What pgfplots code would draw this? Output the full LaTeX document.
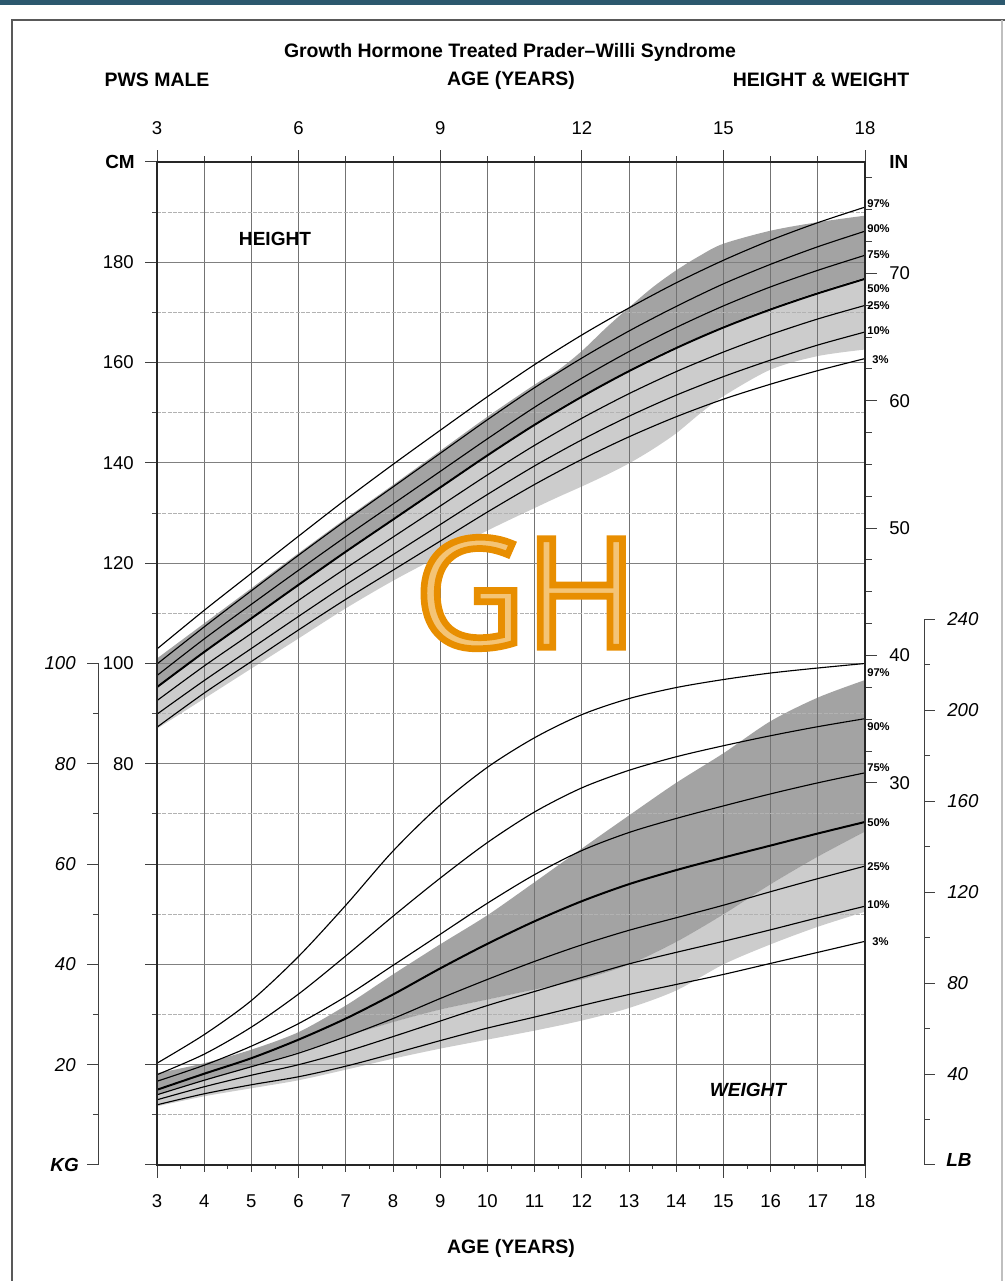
\documentclass[border=0pt]{standalone}
\usepackage{pgfplots}
\pgfplotsset{compat=1.18}
\usepackage{pgfplotstable}
\usepgfplotslibrary{fillbetween}
\usepackage{fontspec}
\setmainfont{Liberation Sans}
\newfontfamily\ghfont{Open Sans}
\definecolor{topbar}{RGB}{44,88,110}
\definecolor{gho}{RGB}{232,142,0}
\definecolor{ghl}{RGB}{244,196,118}
\newcommand\fs[1]{\fontsize{#1}{#1}\selectfont}

% Height percentiles (cm)
\pgfplotstableread{
age p97 p90 p75 p50 p25 p10 p3
3 102.9 99.9 97.6 95.3 92.6 89.9 87.3
4 110.6 107.3 104.9 102.3 99.5 96.6 94.1
5 118.0 114.5 111.8 109.0 106.0 103.0 100.4
6 125.4 121.6 118.6 115.7 112.6 109.4 106.7
7 132.7 128.5 125.3 122.3 119.0 115.7 112.8
8 139.7 135.2 131.8 128.7 125.2 121.7 118.6
9 146.5 141.9 138.3 135.1 131.4 127.7 124.4
10 153.2 148.6 144.8 141.5 137.6 133.7 130.2
11 159.6 155.0 151.1 147.6 143.5 139.4 135.7
12 165.5 160.9 156.9 153.2 148.9 144.6 140.7
13 170.9 166.3 162.2 158.3 153.8 149.3 145.2
14 175.9 171.2 167.0 162.9 158.2 153.5 149.2
15 180.4 175.7 171.3 167.0 162.1 157.2 152.7
16 184.4 179.6 175.1 170.6 165.6 160.5 155.7
17 187.9 183.1 178.4 173.8 168.7 163.5 158.4
18 191.0 186.2 181.4 176.7 171.4 166.1 160.8
}\htab

% Height shaded band (cm)
\pgfplotstableread{
age top mid low
3 101.0 95.6 87.0
4 108.0 102.6 93.0
5 115.0 109.3 99.0
6 122.0 116.0 105.0
7 128.9 122.6 111.0
8 135.6 129.0 116.5
9 142.4 135.4 121.5
10 149.2 141.8 126.5
11 155.6 147.9 131.0
11.5 158.5 150.8 133.2
12 162.3 153.5 135.3
12.5 166.8 156.0 137.5
13 171.0 158.6 139.9
13.5 175.0 161.0 142.7
14 178.4 163.2 145.9
14.5 181.3 165.2 149.8
15 183.7 167.3 153.3
16 186.3 170.9 158.6
17 188.0 174.1 161.3
18 189.3 177.0 162.6
}\hband

% Weight percentiles (kg)
\pgfplotstableread{
age p97 p90 p75 p50 p25 p10 p3
3 20.3 18.0 16.7 15.0 14.0 13.0 12.0
4 26.0 22.1 19.9 18.2 16.9 15.6 14.2
5 32.8 27.5 23.7 21.3 19.6 17.9 16.0
6 41.6 34.1 28.2 25.0 22.3 20.0 17.6
7 51.8 41.7 33.6 29.2 25.6 22.6 19.7
8 62.6 49.6 39.8 34.0 29.2 25.6 22.2
9 71.8 57.2 46.0 39.2 33.2 28.7 24.8
10 79.3 64.3 52.2 44.1 37.0 31.8 27.3
11 85.2 70.4 57.9 48.6 40.6 34.6 29.5
12 89.8 75.2 62.7 52.6 43.9 37.4 31.8
13 93.0 78.7 66.3 56.0 46.8 40.1 34.0
14 95.2 81.4 69.1 58.8 49.3 42.4 36.0
15 96.8 83.6 71.6 61.3 51.8 44.6 38.0
16 98.1 85.6 74.0 63.7 54.5 46.9 40.2
17 99.1 87.4 76.2 66.1 57.1 49.3 42.4
18 100.0 89.0 78.2 68.4 59.6 51.6 44.6
}\wtab

% Weight shaded band (kg)
\pgfplotstableread{
age top mid low
3 18.3 14.0 11.7
4 20.3 16.8 13.7
5 23.0 19.6 15.3
6 26.5 22.5 16.9
7 31.8 25.6 19.0
8 38.0 28.5 21.2
9 44.0 31.0 23.2
10 49.8 33.0 25.0
11 56.4 35.0 26.8
12 63.1 37.0 28.8
13 69.7 40.0 31.3
14 76.2 44.5 34.8
15 82.1 50.0 40.0
16 88.5 56.0 44.0
17 93.2 61.5 47.5
18 96.7 66.5 50.5
}\wband

\begin{document}
\begin{tikzpicture}

\begin{scope}[x=0.75pt,y=-0.75pt,yshift=960.75pt]
  % vertical grid
  \foreach \a in {3,...,18} {
    \draw[black!55, line width=0.75pt] ({157+47.2*(\a-3)},162) -- ({157+47.2*(\a-3)},1165);
  }
  % horizontal grid
  \foreach \v in {10,30,...,190} {
    \draw[black!30, line width=0.7pt, dash pattern=on 3pt off 1pt] (157,{1165-5.015*\v}) -- (865,{1165-5.015*\v});
    \draw[black!70, line width=0.7pt] (152,{1165-5.015*\v}) -- (157,{1165-5.015*\v});
  }
  \foreach \v in {20,40,...,180} {
    \draw[black!50, line width=0.7pt] (157,{1165-5.015*\v}) -- (865,{1165-5.015*\v});
  }
  \foreach \v in {0,20,...,200} {
    \draw[black!75, line width=0.75pt] (145,{1165-5.015*\v}) -- (157,{1165-5.015*\v});
  }
  % top and bottom ticks
  \foreach \a in {3,...,18} {
    \draw[black!75, line width=0.75pt] ({157+47.2*(\a-3)},162) -- ({157+47.2*(\a-3)},156);
    \draw[black!75, line width=0.75pt] ({157+47.2*(\a-3)},1165) -- ({157+47.2*(\a-3)},1172);
  }
  \foreach \a in {3,6,...,18} {
    \draw[black!75, line width=0.75pt] ({157+47.2*(\a-3)},162) -- ({157+47.2*(\a-3)},150);
    \draw[black!75, line width=0.75pt] ({157+47.2*(\a-3)},1165) -- ({157+47.2*(\a-3)},1178);
  }
  \foreach \a in {3.5,4.5,...,17.5} {
    \draw[black!75, line width=0.6pt] ({157+47.2*(\a-3)},1165) -- ({157+47.2*(\a-3)},1169);
  }
  % IN scale ticks
  \foreach \i in {30,32.5,...,77.5} {
    \draw[black!75, line width=0.75pt] (865,{1165-5.015*2.54*\i}) -- (872,{1165-5.015*2.54*\i});
  }
  \foreach \i in {30,40,...,70} {
    \draw[black!75, line width=0.75pt] (865,{1165-5.015*2.54*\i}) -- (877,{1165-5.015*2.54*\i});
    \node[anchor=west, inner sep=0, font=\fs{13.9}] at (889,{1165-5.015*2.54*\i}) {\i};
  }
  % KG axis
  \draw[black!75, line width=0.75pt] (98,{1165-5.015*100}) -- (98,1165);
  \foreach \v in {0,20,...,100} {
    \draw[black!75, line width=0.75pt] (87,{1165-5.015*\v}) -- (98,{1165-5.015*\v});
  }
  \foreach \v in {10,30,...,90} {
    \draw[black!75, line width=0.75pt] (93,{1165-5.015*\v}) -- (98,{1165-5.015*\v});
  }
  \foreach \v in {20,40,...,100} {
    \node[anchor=east, inner sep=0, font=\fs{14}\itshape] at (76,{1165-5.015*\v}) {\v};
  }
  \node[anchor=east, inner sep=0, font=\fs{14.2}\bfseries\itshape] at (79,1165) {KG};
  % LB axis
  \draw[black!75, line width=0.75pt] (924,{1165-5.015*0.45359*240}) -- (924,1165);
  \foreach \l in {0,40,...,240} {
    \draw[black!75, line width=0.75pt] (924,{1165-5.015*0.45359*\l}) -- (935,{1165-5.015*0.45359*\l});
  }
  \foreach \l in {20,60,...,220} {
    \draw[black!75, line width=0.75pt] (924,{1165-5.015*0.45359*\l}) -- (930,{1165-5.015*0.45359*\l});
  }
  \foreach \l in {40,80,...,240} {
    \node[anchor=west, inner sep=0, font=\fs{14}\itshape] at (947,{1165-5.015*0.45359*\l}) {\l};
  }
  \node[anchor=west, inner sep=0, font=\fs{14.2}\bfseries\itshape] at (946,1160) {LB};
  % CM labels
  \foreach \v in {80,100,...,180} {
    \node[anchor=east, inner sep=0, font=\fs{13.9}] at (134,{1165-5.015*\v}) {\v};
  }
  \node[anchor=east, inner sep=0, font=\fs{14.2}\bfseries] at (135,162) {CM};
  \node[anchor=west, inner sep=0, font=\fs{14.2}\bfseries] at (889,162) {IN};
  % age labels
  \foreach \a in {3,6,...,18} {
    \node[inner sep=0, font=\fs{13.9}] at ({157+47.2*(\a-3)},128) {\a};
  }
  \foreach \a in {3,...,18} {
    \node[inner sep=0, font=\fs{13.9}] at ({157+47.2*(\a-3)},1201) {\a};
  }
  % headings
  \node[inner sep=0, font=\fs{14.6}\bfseries] at (510,52) {Growth Hormone Treated Prader--Willi Syndrome};
  \node[inner sep=0, font=\fs{14.6}\bfseries] at (157,80) {PWS MALE};
  \node[inner sep=0, font=\fs{14.6}\bfseries] at (511,80) {AGE (YEARS)};
  \node[inner sep=0, font=\fs{14.6}\bfseries] at (821,80) {HEIGHT \& WEIGHT};
  \node[inner sep=0, font=\fs{14.6}\bfseries] at (511,1248) {AGE (YEARS)};
  \node[inner sep=0, font=\fs{14.3}\bfseries] at (275,239) {HEIGHT};
  \node[inner sep=0, font=\fs{14.3}\bfseries\itshape] at (748,1090) {WEIGHT};
  % percentile labels
  \foreach \t/\y in {97/204,90/229,75/255,50/289,25/306,10/331,97/673,90/727,75/768,50/823,25/867,10/905} {
    \node[anchor=west, inner sep=0, font=\fs{8.4}\bfseries] at (867,\y) {\t\%};
  }
  \node[anchor=west, inner sep=0, font=\fs{8.4}\bfseries] at (872,360) {3\%};
  \node[anchor=west, inner sep=0, font=\fs{8.4}\bfseries] at (872,942) {3\%};
\end{scope}

\begin{axis}[at={(117.75pt,87pt)}, anchor=south west,
  width=531pt, height=752.25pt, scale only axis,
  xmin=3, xmax=18, ymin=0, ymax=200,
  axis line style={draw=none}, xtick=\empty, ytick=\empty, no markers]
  % height band
  \addplot[name path=hT, draw=none, smooth] table[x=age,y=top]{\hband};
  \addplot[name path=hM, draw=none, smooth] table[x=age,y=mid]{\hband};
  \addplot[name path=hL, draw=none, smooth] table[x=age,y=low]{\hband};
  \addplot[fill=black, fill opacity=0.36, draw=none] fill between[of=hT and hM];
  \addplot[fill=black, fill opacity=0.2, draw=none] fill between[of=hM and hL];
  % weight band
  \addplot[name path=wT, draw=none, smooth] table[x=age,y=top]{\wband};
  \addplot[name path=wM, draw=none, smooth] table[x=age,y=mid]{\wband};
  \addplot[name path=wL, draw=none, smooth] table[x=age,y=low]{\wband};
  \addplot[fill=black, fill opacity=0.36, draw=none] fill between[of=wT and wM];
  \addplot[fill=black, fill opacity=0.2, draw=none] fill between[of=wM and wL];
  % percentile curves
  \pgfplotsinvokeforeach{p97,p90,p75,p25,p10,p3}{
    \addplot[black, line width=0.85pt, smooth] table[x=age,y=#1]{\htab};
    \addplot[black, line width=0.85pt, smooth] table[x=age,y=#1]{\wtab};
  }
  \addplot[black, line width=1.5pt, smooth] table[x=age,y=p50]{\htab};
  \addplot[black, line width=1.5pt, smooth] table[x=age,y=p50]{\wtab};
\end{axis}

\begin{scope}[x=0.75pt,y=-0.75pt,yshift=960.75pt]
  \draw[black!85, line width=0.9pt] (157,162) rectangle (865,1165);
  % GH watermark: filled light orange, outlined orange
  \node[inner sep=0, text=ghl] at (526,593)
    {\ghfont\fs{114}\special{pdf:literal direct 2 Tr 5 w 0.91 0.557 0 RG}GH\special{pdf:literal direct 0 Tr}};
  % page frame
  \fill[topbar] (0,0) rectangle (1005,5);
  \draw[black!65, line width=1.2pt] (12,1281) -- (12,20) -- (1005,20);
  \draw[black!25, line width=0.8pt] (1002,20) -- (1002,1281);
\end{scope}
\pgfresetboundingbox
\path[use as bounding box] (0,0) rectangle (753.75pt,960.75pt);
\end{tikzpicture}
\end{document}
